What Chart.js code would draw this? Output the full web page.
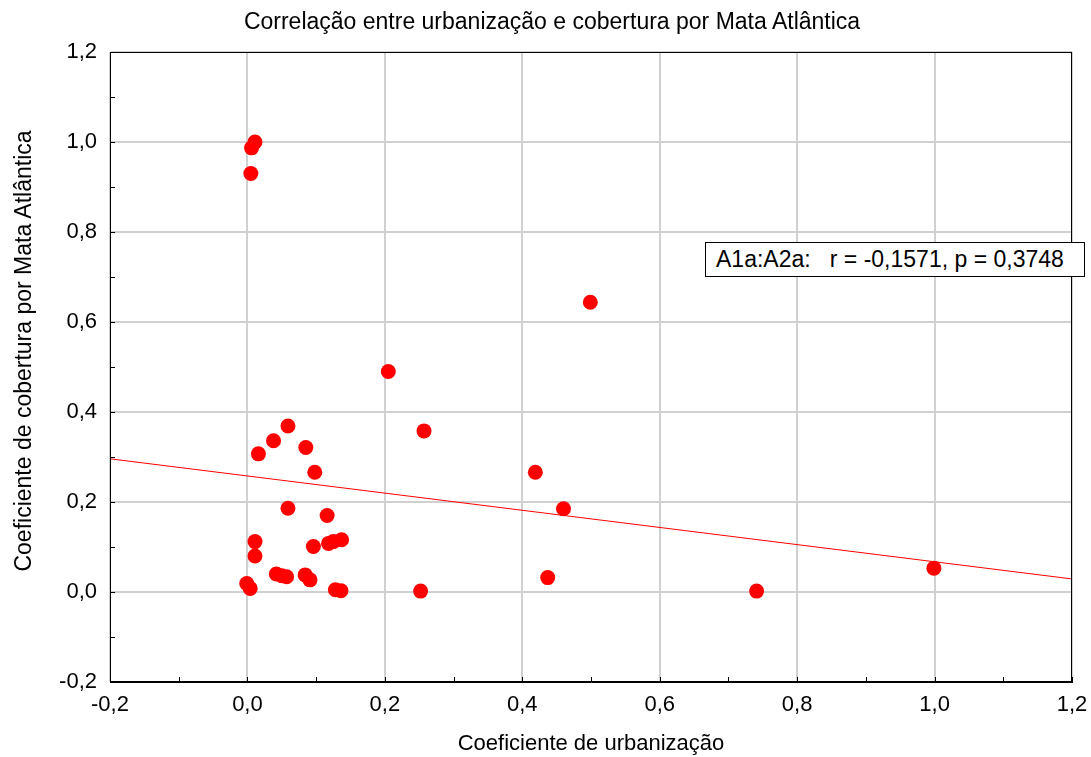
<!DOCTYPE html>
<html>
<head>
<meta charset="utf-8">
<script src="https://cdn.jsdelivr.net/npm/chart.js@4"></script>
<style>
body{margin:0;background:#fff}
#wrap{position:relative;width:1091px;height:757px;font-family:"Liberation Sans",Arial,sans-serif;color:#000}
#titulo{position:absolute;left:0;top:7px;width:1104px;text-align:center;font-size:23px;line-height:28px}
#rotY{position:absolute;left:-277px;top:337px;width:600px;height:28px;line-height:28px;text-align:center;font-size:23px;transform:rotate(-90deg)}
#stat{position:absolute;left:705px;top:242px;width:380px;height:35px;box-sizing:border-box;border:1px solid #000;background:#fff;
 font-size:23px;white-space:pre;line-height:33px;padding-left:10px}
</style>
</head>
<body>
<div id="wrap">
<canvas id="grafico" width="1091" height="757"></canvas>
<div id="titulo">Correlação entre urbanização e cobertura por Mata Atlântica</div>
<div id="rotY">Coeficiente de cobertura por Mata Atlântica</div>
<div id="stat">A1a:A2a:   r = -0,1571, p = 0,3748</div>
</div>
<script>
// coeficiente de urbanizacao (x) e cobertura por Mata Atlantica (y)
const urbanizacao=[0.006,0.011,0.005,0.205,0.499,0.257,0.419,0.460,0.437,0.252,0.741,0.999,
 0.059,0.038,0.016,0.085,0.098,0.059,0.116,0.011,0.011,0.096,0.118,0.125,0.137,
 -0.001,0.004,0.042,0.050,0.057,0.084,0.091,0.128,0.136];
const cobertura=[0.987,1.000,0.930,0.490,0.644,0.358,0.266,0.185,0.032,0.002,0.002,0.053,
 0.369,0.336,0.307,0.321,0.266,0.186,0.170,0.112,0.080,0.101,0.108,0.112,0.116,
 0.019,0.008,0.040,0.036,0.034,0.038,0.027,0.005,0.003];
// reta de regressao (extremos)
const retaX=[-0.2,1.2];
const retaY=[0.296,0.029];
const ticks=[-0.2,0,0.2,0.4,0.6,0.8,1.0,1.2];

const pontos=urbanizacao.map((x,i)=>({x,y:cobertura[i]}));
const reta=retaX.map((x,i)=>({x,y:retaY[i]}));

const fmt=v=>(Math.abs(v)<1e-9?0:v).toFixed(1).replace('.',',');
const fam='"Liberation Sans",Arial,sans-serif';
const tickFont={family:fam,size:22};

const moldura={
 id:'moldura',
 afterDraw(c){
  const {ctx,chartArea:a,scales}=c;
  ctx.save();
  ctx.strokeStyle='#000';ctx.lineWidth=1;
  ctx.strokeRect(a.left+0.5,a.top+0.5,a.right-a.left-1,a.bottom-a.top-1);
  for(let i=-2;i<=12;i++){
   const v=i/10;
   const px=Math.round(scales.x.getPixelForValue(v))+0.5;
   const py=Math.round(scales.y.getPixelForValue(v))+0.5;
   ctx.beginPath();
   ctx.moveTo(px,a.bottom);ctx.lineTo(px,a.bottom-5);
   ctx.moveTo(a.left,py);ctx.lineTo(a.left+5,py);
   ctx.stroke();
  }
  ctx.restore();
 }
};

new Chart(document.getElementById('grafico'),{
 type:'scatter',
 data:{datasets:[
  {data:pontos,backgroundColor:'#ff0000',borderColor:'#ff0000',pointRadius:7.5,pointHoverRadius:7.5,borderWidth:0},
  {type:'line',data:reta,borderColor:'#ff0000',borderWidth:1,pointRadius:0,fill:false,tension:0}
 ]},
 options:{
  responsive:false,animation:false,
  layout:{padding:{left:0,right:19,top:52,bottom:0}},
  plugins:{legend:{display:false},tooltip:{enabled:false},title:{display:false}},
  scales:{
   x:{type:'linear',min:-0.2,max:1.2,
    afterBuildTicks:s=>{s.ticks=ticks.map(v=>({value:v}));},
    afterFit:s=>{s.height=75;s.paddingRight=0;s.paddingLeft=0;},
    ticks:{callback:fmt,color:'#000',font:tickFont,padding:10,maxRotation:0},
    grid:{color:'#d0d0d0',lineWidth:2,drawTicks:false},
    border:{display:true,color:'#000',width:1},
    title:{display:true,text:'Coeficiente de urbanização',color:'#000',
     font:{family:fam,size:22},padding:{top:0,bottom:0}}
   },
   y:{type:'linear',min:-0.2,max:1.2,
    afterBuildTicks:s=>{s.ticks=ticks.map(v=>({value:v}));},
    afterFit:s=>{s.width=110;s.paddingTop=0;s.paddingBottom=0;},
    ticks:{callback:fmt,color:'#000',font:tickFont,padding:13},
    grid:{color:'#d0d0d0',lineWidth:2,drawTicks:false},
    border:{display:true,color:'#000',width:1}
   }
  }
 },
 plugins:[moldura]
});
</script>
</body>
</html>
